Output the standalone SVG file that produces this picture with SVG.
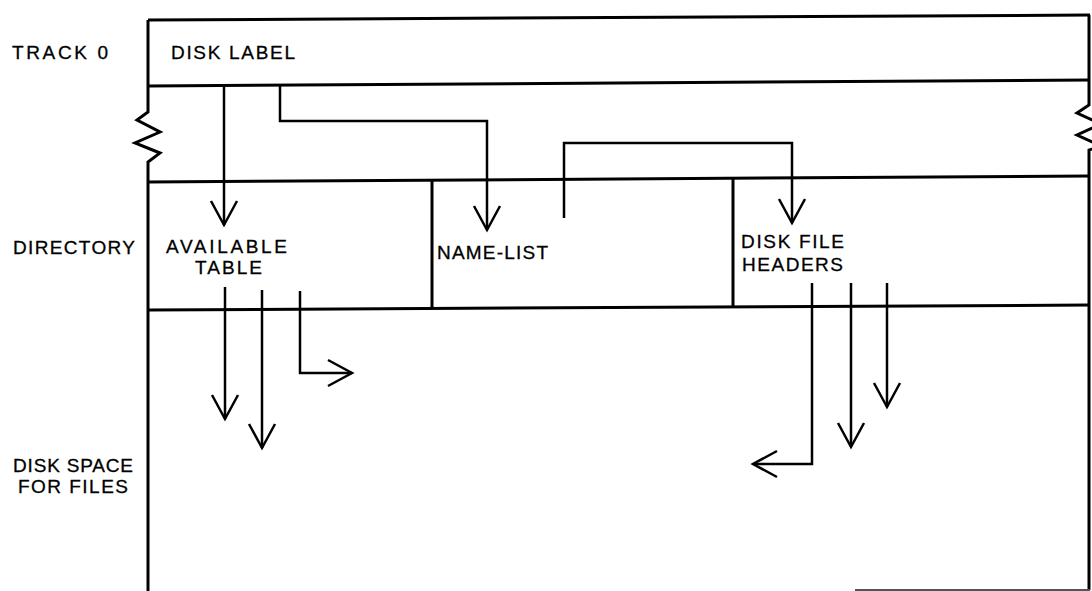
<svg xmlns="http://www.w3.org/2000/svg" width="1092" height="591" viewBox="0 0 1092 591">
<style>
.frame{fill:none;stroke:#000;stroke-width:3;stroke-linejoin:miter}
.conn{fill:none;stroke:#000;stroke-width:2.5}
.lbl{font-family:"Liberation Sans",Arial,sans-serif;font-size:19px;fill:#000;stroke:#000;stroke-width:0.3}
</style>
<defs>
<marker id="v" markerUnits="userSpaceOnUse" viewBox="-27 -16 30 32" markerWidth="30" markerHeight="32" refX="0" refY="0" orient="auto">
<path d="M-24,-13 L0,0 L-24,13" fill="none" stroke="#000" stroke-width="2.5"/>
</marker>
</defs>
<rect width="1092" height="591" fill="#fff"/>
<g id="frame">
<path class="frame" d="M148,20 L1090,15"/>
<path class="frame" d="M148,591 V162 L160,153 L135,143 L160,132 L137,120 L148,112 V20"/>
<path class="frame" d="M1089,15 V105 L1077,113 L1101,124 L1077,135 L1101,146 L1089,150 V590"/>
<path d="M855,590 H1090" stroke="#555" stroke-width="2"/>
</g>
<g id="track0">
<path class="frame" d="M148,86 L1090,80"/>
<text class="lbl" x="12" y="59" textLength="96" lengthAdjust="spacing">TRACK 0</text>
<text class="lbl" x="171" y="59" textLength="124" lengthAdjust="spacing">DISK LABEL</text>
</g>
<g id="directory">
<path class="frame" d="M148,182 L1090,176"/>
<path class="frame" d="M148,310 L1090,305"/>
<text class="lbl" x="13" y="254" textLength="122" lengthAdjust="spacing">DIRECTORY</text>
</g>
<g id="available-table">
<text class="lbl" x="166" y="253" textLength="121" lengthAdjust="spacing">AVAILABLE</text>
<text class="lbl" x="195" y="274" textLength="67" lengthAdjust="spacing">TABLE</text>
</g>
<g id="name-list">
<path class="frame" d="M432,181 V309"/>
<text class="lbl" x="437" y="259" textLength="111" lengthAdjust="spacing">NAME-LIST</text>
</g>
<g id="disk-file-headers">
<path class="frame" d="M733,179 V307"/>
<text class="lbl" x="741" y="248" textLength="103" lengthAdjust="spacing">DISK FILE</text>
<text class="lbl" x="742" y="271" textLength="101" lengthAdjust="spacing">HEADERS</text>
</g>
<g id="disk-space">
<text class="lbl" x="13" y="472" textLength="120" lengthAdjust="spacing">DISK SPACE</text>
<text class="lbl" x="18" y="493" textLength="110" lengthAdjust="spacing">FOR FILES</text>
</g>
<g id="connectors">
<path class="conn" d="M224,86 V225" marker-end="url(#v)"/>
<path class="conn" d="M280,86 V121 H487 V230" marker-end="url(#v)"/>
<path class="conn" d="M564,218 V143 H792 V223" marker-end="url(#v)"/>
<path class="conn" d="M225,287 V419" marker-end="url(#v)"/>
<path class="conn" d="M262,290 V448" marker-end="url(#v)"/>
<path class="conn" d="M300,291 V373 H352" marker-end="url(#v)"/>
<path class="conn" d="M812,283 V464 H753" marker-end="url(#v)"/>
<path class="conn" d="M851,283 V447" marker-end="url(#v)"/>
<path class="conn" d="M887,283 V407" marker-end="url(#v)"/>
</g>
</svg>
